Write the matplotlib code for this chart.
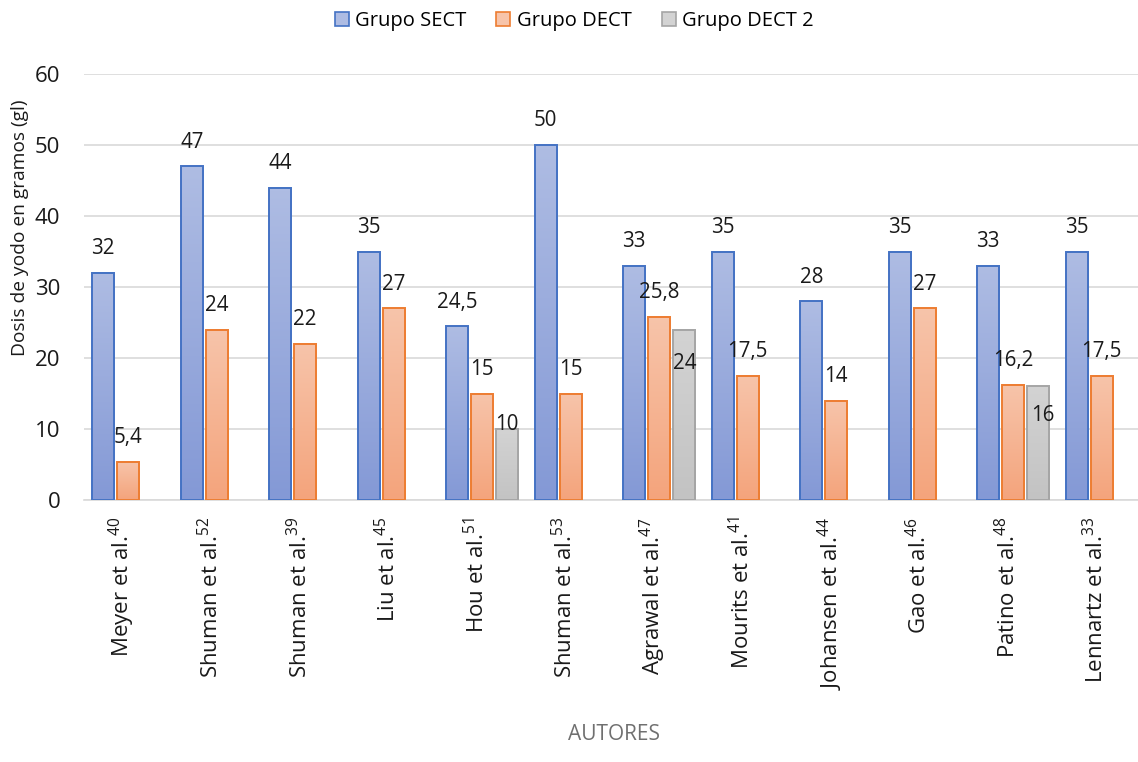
import numpy as np
import matplotlib
matplotlib.use("Agg")
import matplotlib.pyplot as plt
import matplotlib.transforms as mtransforms
from matplotlib.colors import LinearSegmentedColormap
from matplotlib.patches import Patch

plt.rcParams['font.family'] = ['Open Sans', 'DejaVu Sans']
plt.rcParams['mathtext.default'] = 'regular'

# Data (dosis de yodo, g)
autores = ["Meyer et al.", "Shuman et al.", "Shuman et al.", "Liu et al.",
           "Hou et al.", "Shuman et al.", "Agrawal et al.", "Mourits et al.",
           "Johansen et al.", "Gao et al.", "Patino et al.", "Lennartz et al."]
refs = ["40", "52", "39", "45", "51", "53", "47", "41", "44", "46", "48", "33"]
sect = [32, 47, 44, 35, 24.5, 50, 33, 35, 28, 35, 33, 35]
dect = [5.4, 24, 22, 27, 15, 15, 25.8, 17.5, 14, 27, 16.2, 17.5]
dect2 = [np.nan, np.nan, np.nan, np.nan, 10, np.nan, 24, np.nan, np.nan, np.nan, 16, np.nan]

series_names = ["Grupo SECT", "Grupo DECT", "Grupo DECT 2"]
# (top colour, bottom colour, edge colour)
series_style = [("#aebce3", "#8499d6", "#4472c4"),
                ("#f7c4aa", "#f4a47c", "#ed7d31"),
                ("#d3d3d3", "#c3c3c3", "#a5a5a5")]

# nudges (pixels) for labels that were moved off the default spot
label_nudge = {(2, 4): (0, -20), (2, 6): (0, -58), (2, 10): (5, -53)}

W, H = 1138, 762
fig = plt.figure(figsize=(W / 100, H / 100), dpi=100)
ax = fig.add_axes([84 / W, 1 - 500 / H, 1062 / W, 426 / H])

n = len(autores)
x = np.arange(n)
slot = 0.2825
bw = 0.25
label_fs = 14.8

for s, vals in enumerate([sect, dect, dect2]):
    top_c, bot_c, edge_c = series_style[s]
    cmap = LinearSegmentedColormap.from_list(f"g{s}", [bot_c, top_c])
    grad = np.linspace(0, 1, 64).reshape(-1, 1)
    xs = x + (s - 1) * slot
    bars = ax.bar(xs, vals, width=bw, facecolor="none", edgecolor=edge_c,
                  linewidth=1.4, zorder=3)
    for g, (rect, v) in enumerate(zip(bars, vals)):
        if np.isnan(v):
            continue
        x0 = rect.get_x()
        ax.imshow(grad, cmap=cmap, aspect="auto", origin="lower",
                  extent=(x0, x0 + bw, 0, v), zorder=2, interpolation="bilinear")
        dx, dy = label_nudge.get((s, g), (0, 0))
        txt = f"{v:g}".replace(".", ",")
        ax.annotate(txt, xy=(xs[g], v), xytext=(dx, 24 + dy),
                    textcoords="offset pixels", ha="center", va="center",
                    fontsize=label_fs, color="#1a1a1a", zorder=5)

ax.set_xlim(-0.5, n - 0.5)
ax.set_ylim(0, 60)
ax.set_yticks(range(0, 61, 10))
ax.yaxis.grid(True, color="#d9d9d9", linewidth=1.2)
ax.set_axisbelow(True)
for sp in ["top", "right", "left"]:
    ax.spines[sp].set_visible(False)
ax.spines["bottom"].set_color("#d9d9d9")
ax.spines["bottom"].set_linewidth(1.2)
ax.tick_params(axis="both", length=0, colors="#1a1a1a")
ax.tick_params(axis="y", pad=17, labelsize=16)
ax.tick_params(axis="x", pad=12, labelsize=16)

ax.set_xticks(x)
ax.set_xticklabels([f"{a}$^{{{r}}}$" for a, r in zip(autores, refs)],
                   rotation=90, va="top", ha="center")
shift = mtransforms.ScaledTranslation(-6 / 100, 0, fig.dpi_scale_trans)
for lbl in ax.get_xticklabels():
    lbl.set_transform(lbl.get_transform() + shift)

fig.text(20 / W, 1 - 228 / H, "Dosis de yodo en gramos (gl)", rotation=90,
         ha="center", va="center", fontsize=13.8, color="#1a1a1a")
fig.text(614 / W, 1 - 735 / H, "AUTORES", ha="center", va="center",
         fontsize=15, color="#707070")

handles = [Patch(facecolor=series_style[i][0], edgecolor=series_style[i][2],
                 linewidth=1.2, label=series_names[i]) for i in range(3)]
fig.legend(handles=handles, loc="center", bbox_to_anchor=(574 / W, 1 - 21 / H),
           ncol=3, frameon=False, fontsize=14.5, handlelength=0.7,
           handleheight=0.7, handletextpad=0.3, columnspacing=1.5)

fig.savefig("out.png", dpi=100)
